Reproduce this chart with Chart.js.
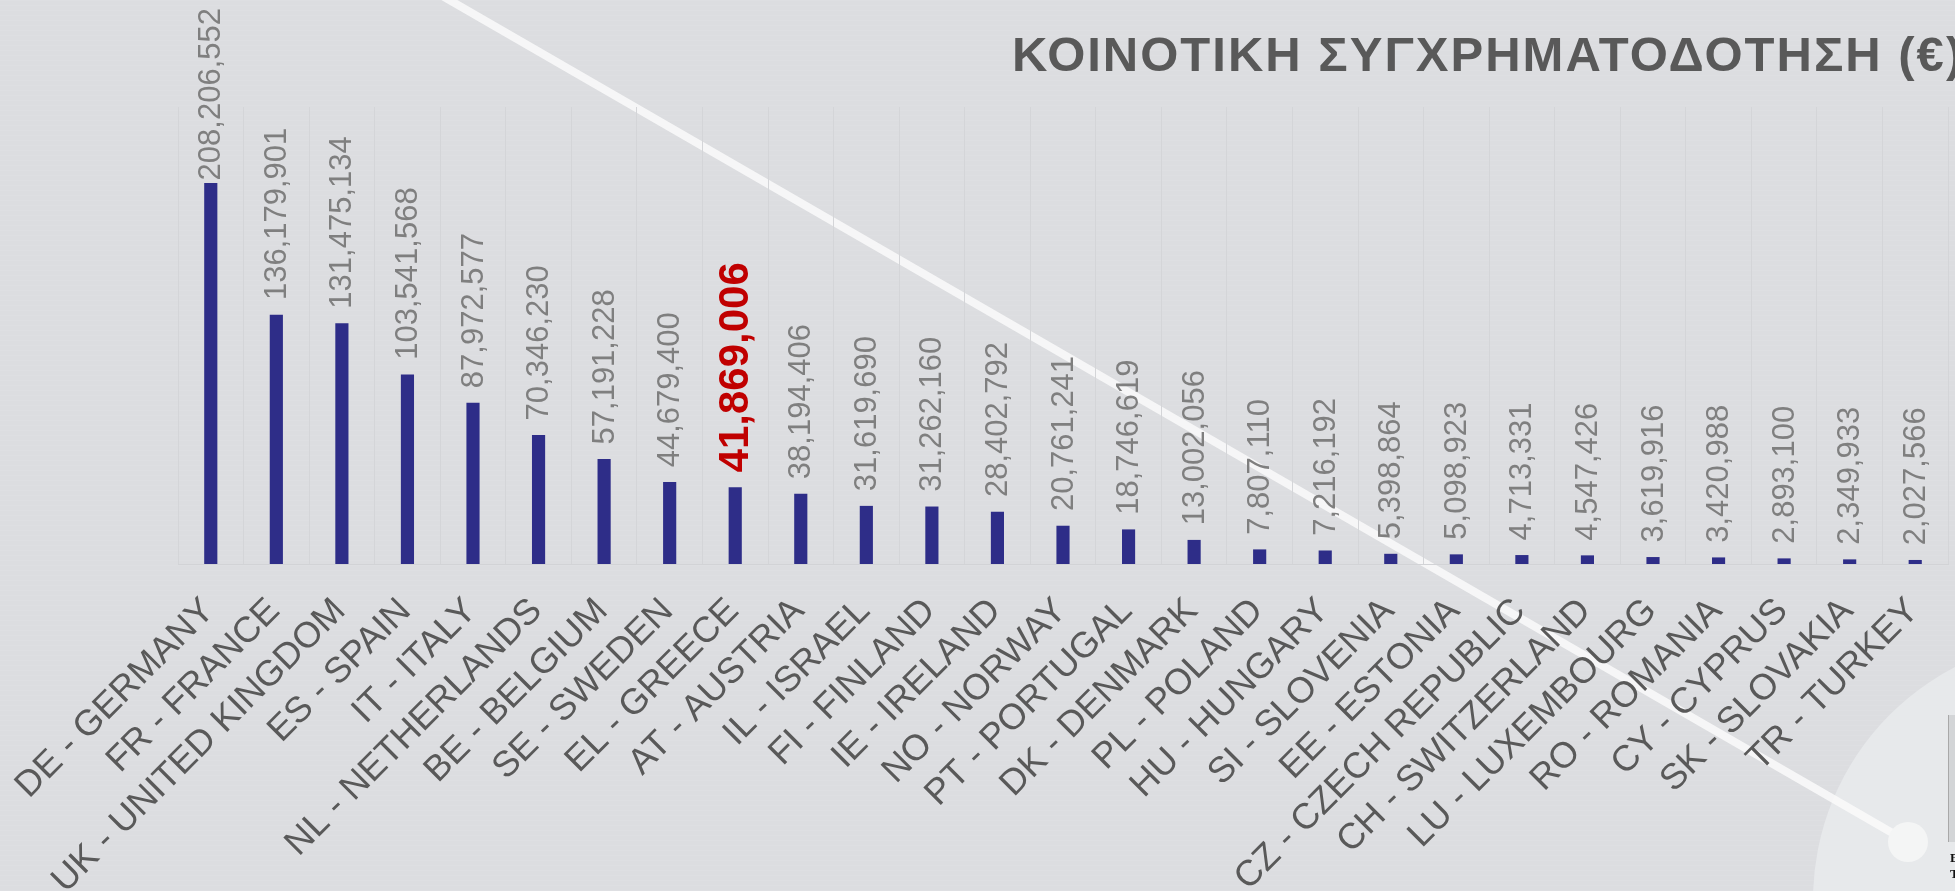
<!DOCTYPE html>
<html>
<head>
<meta charset="utf-8">
<script src="https://cdn.jsdelivr.net/npm/chart.js@4.4.1/dist/chart.umd.min.js"></script>
<style>
  html, body { margin: 0; padding: 0; background: #dcdde0; overflow: hidden; }
  canvas { display: block; }
</style>
</head>
<body>
<canvas id="grafico" width="1955" height="891"></canvas>
<script>
// χώρες (κατηγορίες του άξονα Χ)
const xValues = ["DE - GERMANY", "FR - FRANCE", "UK - UNITED KINGDOM", "ES - SPAIN", "IT - ITALY",
  "NL - NETHERLANDS", "BE - BELGIUM", "SE - SWEDEN", "EL - GREECE", "AT - AUSTRIA", "IL - ISRAEL",
  "FI - FINLAND", "IE - IRELAND", "NO - NORWAY", "PT - PORTUGAL", "DK - DENMARK", "PL - POLAND",
  "HU - HUNGARY", "SI - SLOVENIA", "EE - ESTONIA", "CZ - CZECH REPUBLIC", "CH - SWITZERLAND",
  "LU - LUXEMBOURG", "RO - ROMANIA", "CY - CYPRUS", "SK - SLOVAKIA", "TR - TURKEY"];

// κοινοτική συγχρηματοδότηση σε ευρώ
const funding = [208206552, 136179901, 131475134, 103541568, 87972577, 70346230, 57191228,
  44679400, 41869006, 38194406, 31619690, 31262160, 28402792, 20761241, 18746619, 13002056,
  7807110, 7216192, 5398864, 5098923, 4713331, 4547426, 3619916, 3420988, 2893100, 2349933, 2027566];

const titleText = "ΚΟΙΝΟΤΙΚΗ ΣΥΓΧΡΗΜΑΤΟΔΟΤΗΣΗ (€)";
const highlight = "EL - GREECE";
const yMax = 250000000;

const fontFam = '"Liberation Sans", Arial, sans-serif';

// fondo: color, rayas, circulo, linea diagonal y titulo
const fondo = {
  id: "fondo",
  beforeDraw(chart) {
    const ctx = chart.ctx;
    const w = chart.width, h = chart.height;
    ctx.save();
    ctx.fillStyle = "#dcdde0";
    ctx.fillRect(0, 0, w, h);
    ctx.fillStyle = "rgba(255,255,255,0.07)";
    for (let y = 0; y < h; y += 5) ctx.fillRect(0, y, w, 1);

    // circulo claro abajo a la derecha
    ctx.fillStyle = "#e7e9eb";
    ctx.beginPath();
    ctx.arc(2075, 900, 262, 0, Math.PI * 2);
    ctx.fill();

    // trozo de panel en el borde derecho
    ctx.fillStyle = "#d3d5d7";
    ctx.fillRect(1948, 715, 7, 127);
    ctx.fillStyle = "#a8a8a8";
    ctx.fillRect(1948, 715, 1, 127);
    ctx.fillStyle = "#111";
    ctx.font = 'bold 13px "Liberation Serif", serif';
    ctx.textBaseline = "alphabetic";
    ctx.fillText("E", 1950, 862);
    ctx.fillText("T", 1950, 878);

    // linea diagonal blanca
    ctx.strokeStyle = "rgba(250,250,250,0.85)";
    ctx.lineWidth = 8;
    ctx.lineCap = "round";
    ctx.beginPath();
    ctx.moveTo(432, -10);
    ctx.lineTo(1908, 842);
    ctx.stroke();
    ctx.fillStyle = "#f4f5f5";
    ctx.beginPath();
    ctx.arc(1908, 842, 20, 0, Math.PI * 2);
    ctx.fill();

    // titulo
    ctx.fillStyle = "#595959";
    ctx.font = "bold 49px " + fontFam;
    ctx.letterSpacing = "2px";
    ctx.textAlign = "left";
    ctx.fillText(titleText, 1012, 71);
    ctx.restore();
  }
};

// etiquetas de valores encima de las barras (giradas 90 grados)
const etiquetas = {
  id: "etiquetas",
  afterDatasetsDraw(chart) {
    const ctx = chart.ctx;
    const meta = chart.getDatasetMeta(0);
    ctx.save();
    meta.data.forEach((bar, i) => {
      const txt = funding[i].toLocaleString("en-US");
      const isHl = xValues[i] === highlight;
      ctx.font = isHl ? "bold 42px " + fontFam : "31px " + fontFam;
      ctx.fillStyle = isHl ? "#c00000" : "#7f7f7f";
      const tw = ctx.measureText(txt).width;
      let start = bar.y - 15;
      if (start - tw < 8) start = tw + 8;
      ctx.save();
      ctx.translate(bar.x + 1, start);
      ctx.rotate(-Math.PI / 2);
      ctx.textAlign = "left";
      ctx.textBaseline = "middle";
      ctx.fillText(txt, 0, 0);
      ctx.restore();
    });
    ctx.restore();
  }
};

const myChart = new Chart("grafico", {
  type: "bar",
  data: {
    labels: xValues,
    datasets: [{
      label: "Κοινοτική συγχρηματοδότηση",
      data: funding,
      backgroundColor: "#2e2d88",
      barThickness: 12.5
    }]
  },
  options: {
    responsive: false,
    animation: false,
    layout: { padding: { left: 178, right: 7, top: 107, bottom: 0 } },
    plugins: {
      legend: { display: false },
      title: { display: false },
      tooltip: { enabled: false }
    },
    scales: {
      x: {
        grid: { display: true, offset: true, color: "#d4d5d8", lineWidth: 1, drawTicks: false },
        border: { display: true, color: "#d2d3d6" },
        ticks: {
          autoSkip: false,
          maxRotation: 45,
          minRotation: 45,
          color: "#595959",
          font: { family: fontFam, size: 36 },
          padding: 26,
          labelOffset: -2
        },
        afterFit(s) {
          s.height = 327;
          s.paddingLeft = 0;
          s.paddingRight = 0;
        }
      },
      y: { display: false, min: 0, max: yMax }
    }
  },
  plugins: [fondo, etiquetas]
});
</script>
</body>
</html>
